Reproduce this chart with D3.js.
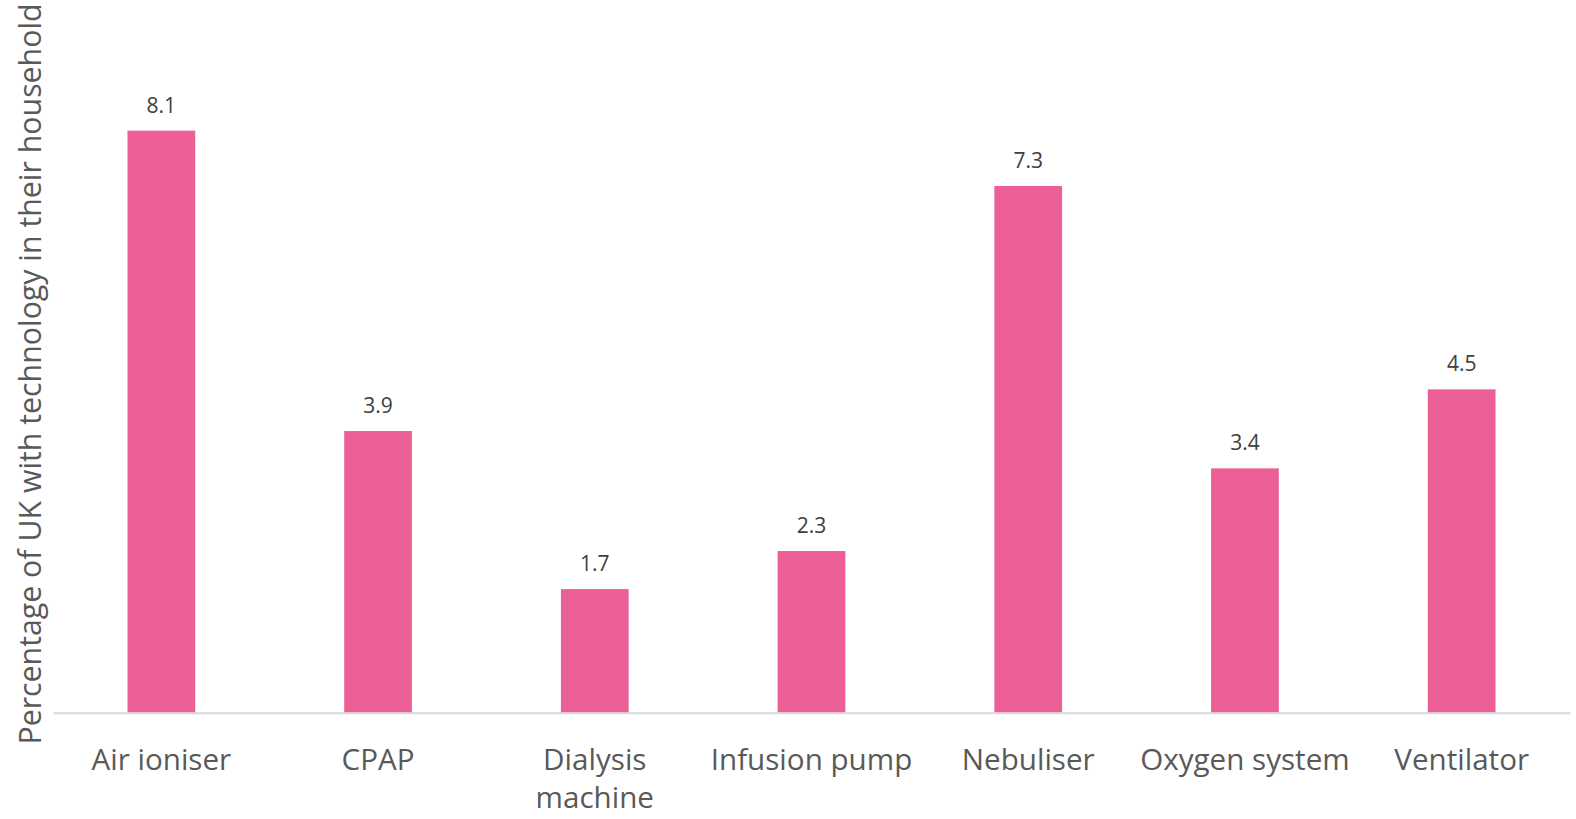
<!DOCTYPE html>
<html>
<head>
<meta charset="utf-8">
<script src="https://cdn.jsdelivr.net/npm/d3@7"></script>
<style>
  body { margin: 0; background: #fff; }
  svg { display: block; }
  text { font-family: "Open Sans", sans-serif; }
</style>
</head>
<body>
<svg id="chart" width="1576" height="819"></svg>
<script>
const categories = ["Air ioniser", "CPAP", "Dialysis machine", "Infusion pump", "Nebuliser", "Oxygen system", "Ventilator"]
const values = [8.1, 3.92, 1.72, 2.25, 7.33, 3.4, 4.5]
const yTitle = "Percentage of UK with technology in their household"

const svg = d3.select("#chart")
const plotLeft = 53, plotRight = 1570, plotBase = 712.7, plotTop = 66

const x = d3.scaleBand()
    .domain(categories)
    .range([plotLeft, plotRight])
    .paddingInner(0.6875)
    .paddingOuter(0.34375)

const y = d3.scaleLinear()
    .domain([0, 9])
    .range([plotBase, plotTop])

svg.append("g")
    .selectAll("rect")
    .data(values)
    .join("rect")
    .attr("x", (d, i) => x(categories[i]))
    .attr("y", d => y(d))
    .attr("width", x.bandwidth())
    .attr("height", d => y(0) - y(d))
    .attr("fill", "#ED5F97")

svg.append("g")
    .selectAll("text")
    .data(values)
    .join("text")
    .attr("x", (d, i) => x(categories[i]) + x.bandwidth() / 2)
    .attr("y", d => y(d) - 18)
    .attr("text-anchor", "middle")
    .attr("font-size", 21)
    .attr("fill", "#404040")
    .text(d => d.toFixed(1))

// x axis, just a line and wrapped labels
const xAxis = svg.append("g")
    .attr("transform", `translate(0,${plotBase})`)
    .call(d3.axisBottom(x).tickSize(0).tickPadding(0))
xAxis.select(".domain").attr("stroke", "#d9d9d9").attr("stroke-width", 2)
xAxis.selectAll(".tick text").remove()

xAxis.selectAll(".tick").each(function (d) {
    const t = d3.select(this).append("text")
        .attr("text-anchor", "middle")
        .attr("font-size", 29.6)
        .attr("fill", "#595959")
    const words = d.split(" ")
    let lines = [], line = ""
    words.forEach(w => {
        const test = line ? line + " " + w : w
        if (test.length > 14 && line) { lines.push(line); line = w } else line = test
    })
    lines.push(line)
    lines.forEach((l, i) => {
        t.append("tspan").attr("x", 0).attr("y", 57.5 + i * 38.3).text(l)
    })
})

svg.append("text")
    .attr("transform", `translate(41,${374}) rotate(-90)`)
    .attr("text-anchor", "middle")
    .attr("font-size", 30.3)
    .attr("fill", "#595959")
    .text(yTitle)
</script>
</body>
</html>
